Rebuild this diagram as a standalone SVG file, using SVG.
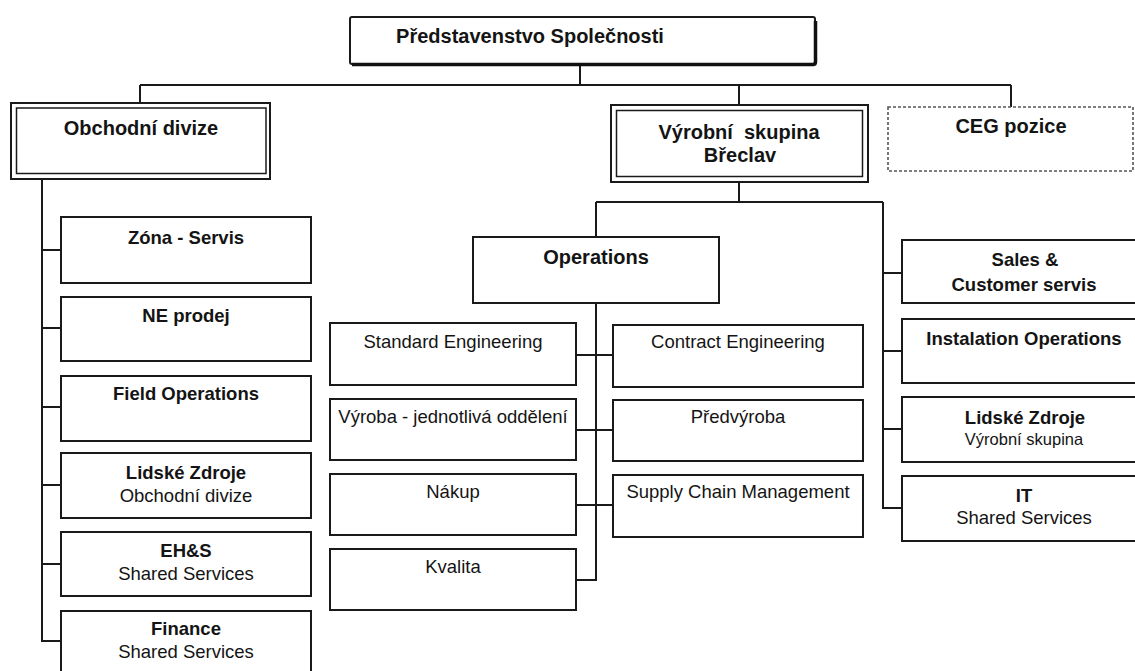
<svg xmlns="http://www.w3.org/2000/svg" width="1135" height="671" viewBox="0 0 1135 671">
  <style>
    .box { fill: #fff; stroke: #1a1a1a; stroke-width: 2; }
    .thin { fill: none; stroke: #1a1a1a; stroke-width: 1.5; }
    .dash { fill: #fff; stroke: #555; stroke-width: 1.6; stroke-dasharray: 3 2; }
    .wire { fill: none; stroke: #1a1a1a; stroke-width: 2; }
    .shadow { fill: none; stroke: #111; stroke-width: 3.5; stroke-linejoin: round; }
    text { font-family: "Liberation Sans", Arial, sans-serif; fill: #141414; text-anchor: middle; }
    .h1 { font-size: 20px; font-weight: bold; }
    .b { font-size: 18.5px; font-weight: bold; }
    .r { font-size: 18.5px; }
    .s { font-size: 16.5px; }
  </style>

  <rect width="1135" height="671" fill="#fff"/>

  <!-- connectors -->
  <g id="connectors">
    <path class="wire" d="M580 64 V85 M140 85 H1011 M140 85 V103 M739 85 V105 M1011 85 V107"/>
    <!-- Obchodní divize branch -->
    <path class="wire" d="M42 179 V641 H61 M42 250 H61 M42 328 H61 M42 407 H61 M42 485 H61 M42 564 H61"/>
    <!-- Výrobní skupina branch -->
    <path class="wire" d="M739 182 V202 M596 202 H883 M596 202 V237"/>
    <path class="wire" d="M883 202 V508 H902 M883 273 H902 M883 351 H902 M883 429 H902"/>
    <!-- Operations branch -->
    <path class="wire" d="M596 303 V580 H576 M576 355 H613 M576 430 H613 M576 505 H613"/>
  </g>

  <!-- top level -->
  <g id="predstavenstvo">
    <rect class="box" x="350" y="17" width="465" height="47" rx="2"/>
    <path class="shadow" d="M352 64.5 H813 Q815.5 64.5 815.5 62 V21"/>
    <text class="h1" x="530" y="43">Představenstvo Společnosti</text>
  </g>

  <g id="obchodni-divize">
    <rect class="box" x="11" y="103" width="259" height="76"/>
    <rect class="thin" x="16.5" y="108" width="249.5" height="65.5"/>
    <text class="h1" x="141" y="135">Obchodní divize</text>
  </g>

  <g id="vyrobni-skupina">
    <rect class="box" x="611" y="105" width="257" height="77"/>
    <rect class="thin" x="616.5" y="110.5" width="246" height="66"/>
    <text class="h1" x="739" y="139" xml:space="preserve">Výrobní  skupina</text>
    <text class="h1" x="740" y="162">Břeclav</text>
  </g>

  <g id="ceg-pozice">
    <rect class="dash" x="888" y="107" width="245" height="64"/>
    <text class="h1" x="1011" y="133">CEG pozice</text>
  </g>

  <!-- Obchodní divize units -->
  <g id="zona-servis">
    <rect class="box" x="61" y="217" width="250" height="66"/>
    <text class="b" x="186" y="244">Zóna - Servis</text>
  </g>
  <g id="ne-prodej">
    <rect class="box" x="61" y="297" width="250" height="64"/>
    <text class="b" x="186" y="322">NE prodej</text>
  </g>
  <g id="field-operations">
    <rect class="box" x="61" y="376" width="250" height="65"/>
    <text class="b" x="186" y="400">Field Operations</text>
  </g>
  <g id="lidske-zdroje-od">
    <rect class="box" x="61" y="453" width="250" height="65"/>
    <text class="b" x="186" y="479">Lidské Zdroje</text>
    <text class="r" x="186" y="502">Obchodní divize</text>
  </g>
  <g id="ehs">
    <rect class="box" x="61" y="532" width="250" height="64"/>
    <text class="b" x="186" y="557">EH&amp;S</text>
    <text class="r" x="186" y="580">Shared Services</text>
  </g>
  <g id="finance">
    <rect class="box" x="61" y="611" width="250" height="66"/>
    <text class="b" x="186" y="635">Finance</text>
    <text class="r" x="186" y="658">Shared Services</text>
  </g>

  <!-- Operations -->
  <g id="operations">
    <rect class="box" x="473" y="237" width="246" height="66"/>
    <text class="h1" x="596" y="264">Operations</text>
  </g>
  <g id="standard-engineering">
    <rect class="box" x="330" y="323" width="246" height="62"/>
    <text class="r" x="453" y="348">Standard Engineering</text>
  </g>
  <g id="contract-engineering">
    <rect class="box" x="613" y="325" width="250" height="62"/>
    <text class="r" x="738" y="348">Contract Engineering</text>
  </g>
  <g id="vyroba">
    <rect class="box" x="330" y="399" width="246" height="61"/>
    <text class="r" x="453" y="423">Výroba - jednotlivá oddělení</text>
  </g>
  <g id="predvyroba">
    <rect class="box" x="613" y="400" width="250" height="61"/>
    <text class="r" x="738" y="423">Předvýroba</text>
  </g>
  <g id="nakup">
    <rect class="box" x="330" y="474" width="246" height="61"/>
    <text class="r" x="453" y="498">Nákup</text>
  </g>
  <g id="supply-chain">
    <rect class="box" x="613" y="475" width="250" height="62"/>
    <text class="r" x="738" y="498">Supply Chain Management</text>
  </g>
  <g id="kvalita">
    <rect class="box" x="330" y="549" width="246" height="61"/>
    <text class="r" x="453" y="573">Kvalita</text>
  </g>

  <!-- Výrobní skupina staff units -->
  <g id="sales">
    <rect class="box" x="902" y="240" width="245" height="63"/>
    <text class="b" x="1025" y="266">Sales &amp;</text>
    <text class="b" x="1024" y="291">Customer servis</text>
  </g>
  <g id="instalation">
    <rect class="box" x="902" y="319" width="245" height="64"/>
    <text class="b" x="1024" y="345">Instalation Operations</text>
  </g>
  <g id="lidske-zdroje-vs">
    <rect class="box" x="902" y="397" width="245" height="65"/>
    <text class="b" x="1025" y="424">Lidské Zdroje</text>
    <text class="s" x="1024" y="445">Výrobní skupina</text>
  </g>
  <g id="it">
    <rect class="box" x="902" y="476" width="245" height="65"/>
    <text class="b" x="1024" y="502">IT</text>
    <text class="r" x="1024" y="524">Shared Services</text>
  </g>
</svg>
